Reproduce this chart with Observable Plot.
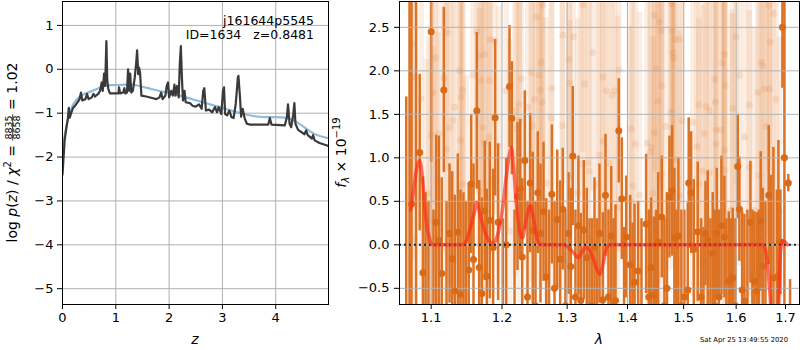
<!DOCTYPE html>
<html><head><meta charset="utf-8">
<script src="https://cdn.jsdelivr.net/npm/d3@7"></script>
<script src="https://cdn.jsdelivr.net/npm/@observablehq/plot@0.6"></script>
<style>
body{margin:0;background:#fff;}
#root{position:relative;width:800px;height:350px;font-family:"DejaVu Sans",sans-serif;background:#fff;}
#root svg{position:absolute;top:0;}
</style></head><body><div id="root"></div>
<script>
// ---------- left panel data ----------
const zTicks = [0, 1, 2, 3, 4];
const pTicks = [-5, -4, -3, -2, -1, 0, 1];
const zBlack = [0,0.04,0.074,0.10,0.118,0.136,0.167,0.198,0.235,0.285,0.32,0.347,0.37,0.43,0.46,0.49,0.55,0.58,0.61,0.67,0.705,0.736,0.755,0.78,0.80,0.823,0.84,0.86,0.89,1.05,1.06,1.08,1.14,1.16,1.18,1.21,1.23,1.25,1.27,1.29,1.32,1.355,1.38,1.40,1.42,1.435,1.455,1.48,1.57,1.70,1.76,1.82,1.85,1.88,1.93,1.955,1.98,2.00,2.04,2.07,2.10,2.12,2.15,2.18,2.20,2.22,2.24,2.26,2.29,2.31,2.39,2.44,2.50,2.56,2.61,2.64,2.66,2.69,2.75,2.81,2.86,2.90,2.93,2.98,3.01,3.03,3.05,3.09,3.13,3.17,3.21,3.25,3.29,3.30,3.33,3.35,3.38,3.42,3.46,3.52,3.86,3.89,3.92,4.17,4.21,4.23,4.26,4.29,4.33,4.35,4.37,4.42,4.54,4.57,4.60,4.68,4.70,4.73,4.82,4.95,4.99];
const pBlack = [-2.40,-1.62,-1.32,-1.13,-0.88,-1.10,-0.98,-0.88,-0.83,-0.75,-0.68,-0.53,-0.71,-0.68,-0.56,-0.68,-0.64,-0.56,-0.62,-0.56,-0.49,-0.30,-0.49,-0.10,-0.38,0.64,-0.26,-0.45,-0.55,-0.55,-0.41,-0.55,-0.53,-0.43,-0.55,-0.53,0.00,-0.49,-0.10,-0.53,-0.49,-0.19,0.11,0.43,-0.11,0.04,-0.08,-0.60,-0.62,-0.66,-0.68,-0.64,-0.53,-0.68,-0.60,-0.38,-0.30,-0.64,-0.49,-0.60,-0.35,-0.60,-0.38,-0.64,0.11,0.53,-0.19,-0.71,-0.49,-0.75,-0.77,-0.83,-0.85,-0.80,-0.90,-0.49,-0.43,-0.94,-0.92,-0.98,-0.86,-0.98,-0.86,-1.02,-0.49,-0.41,-1.02,-1.05,-0.94,-1.09,-1.11,-0.79,-0.19,-0.15,-0.64,-1.08,-0.90,-1.13,-1.24,-1.26,-1.26,-1.11,-1.26,-1.28,-1.09,-0.80,-1.24,-1.32,-1.02,-0.77,-1.24,-1.38,-1.48,-1.39,-1.50,-1.58,-1.50,-1.62,-1.68,-1.73,-1.75];
const zBlue = [0,0.05,0.10,0.15,0.20,0.30,0.40,0.50,0.60,0.70,0.80,0.90,1.00,1.20,1.30,1.40,1.60,1.80,2.00,2.20,2.40,2.60,2.80,3.00,3.20,3.40,3.60,3.80,4.00,4.20,4.35,4.50,4.65,4.80,4.99];
const pBlue = [-1.75,-1.45,-1.15,-0.95,-0.80,-0.65,-0.57,-0.52,-0.47,-0.42,-0.38,-0.36,-0.36,-0.35,-0.35,-0.37,-0.43,-0.49,-0.54,-0.60,-0.67,-0.74,-0.81,-0.88,-0.95,-1.02,-1.07,-1.09,-1.09,-1.11,-1.17,-1.29,-1.42,-1.51,-1.57];
const objName = "j161644p5545";
const objInfo = "ID=1634   z=0.8481";
const chiNum = "8835", chiDen = "8658", chiRatio = "1.02";
const stamp = "Sat Apr 25 13:49:55 2020";

// ---------- right panel data ----------
const lamTicks = [1.1, 1.2, 1.3, 1.4, 1.5, 1.6, 1.7];
const fTicks = [-0.5, 0, 0.5, 1.0, 1.5, 2.0, 2.5];
const darkLam = [1.0668,1.0711,1.0737,1.0798,1.0846,1.0889,1.0924,1.0963,1.1000,1.1031,1.1068,1.1105,1.1144,1.1172,1.1209,1.1251,1.1288,1.1324,1.1366,1.1403,1.1445,1.1481,1.1520,1.1554,1.1587,1.1634,1.1669,1.1706,1.1749,1.1778,1.1821,1.1870,1.1899,1.1943,
1.2014,1.2062,1.2111,1.2146,1.2186,1.2231,1.2272,1.2302,1.2341,1.2382,1.2423,1.2462,1.2504,1.2540,1.2581,1.2628,1.2670,1.2714,1.2758,1.2800,1.2843,1.2889,1.2930,1.2973,1.3021,1.3058,1.3090,1.3133,1.3181,1.3219,1.3268,1.3317,1.3362,1.3403,1.3444,1.3485,1.3527,
1.3582,1.3627,1.3677,1.3723,1.3762,1.3796,1.3852,1.3903,1.3941,1.3978,1.4047,1.4087,1.4122,1.4185,1.4243,1.4325,1.4371,1.4413,1.4460,1.4499,1.4538,1.4602,1.4650,1.4695,1.4741,1.4789,1.4831,1.4868,1.4904,1.4959,1.5014,1.5076,1.5094,1.5139,1.5188,1.5262,
1.5326,1.5370,1.5408,1.5451,1.5502,1.5546,1.5588,1.5623,1.5665,1.5713,1.5771,1.5810,1.5855,1.5894,1.5933,1.5986,1.6031,1.6064,1.6118,1.6163,1.6223,1.6283,1.6323,1.6363,1.6410,1.6454,1.6490,1.6531,1.6586,1.6653,1.6699,1.6750,1.6818,1.6853,1.6894,1.6936,1.6977,1.7059,1.7096];
const darkFlux = [-0.8,3.2,0.47,3.2,1.06,-0.32,-0.8,-1.0,2.45,-0.9,0.26,0.05,-0.33,1.78,-0.9,0.13,-0.16,-0.53,0.145,-0.57,-0.9,-0.8,-0.29,0.70,-0.17,1.54,-0.26,-0.56,0.39,-0.36,0.28,-0.03,1.46,0.26,
-0.9,0.0,1.82,1.455,-0.8,0.555,0.64,-0.14,0.97,-0.6,0.71,0.165,-0.7,0.6,0.13,0.38,-0.37,-0.8,0.58,-0.5,0.29,-0.165,0.41,-0.7,0.13,-0.25,1.02,-0.6,0.22,-0.64,0.17,-0.15,-0.8,-0.7,-0.03,-0.8,0.13,
-0.63,0.57,-0.6,0.10,-0.7,-0.64,1.31,0.53,-0.8,0.09,-0.23,-0.75,-0.43,-0.3,-0.8,0.24,-0.6,-0.26,-0.58,-0.8,0.03,0.32,-0.7,-0.5,0.55,0.62,0.08,-0.8,0.10,-0.7,-0.6,-0.52,0.71,0.60,-0.05,0.15,
-0.6,-0.8,0.13,0.05,-0.8,-0.10,-0.7,0.13,-0.6,0.22,0.09,-0.8,-0.42,-0.8,-0.38,-0.7,0.90,0.41,-0.52,-0.65,-0.8,0.26,-0.8,-0.42,-0.53,-0.8,0.27,-0.25,-0.8,0.57,-0.8,-0.38,-0.37,-0.8,0.03,2.5,1.0,0.71,-0.8];
const darkErr = [2.5,4.2,3.0,4.2,0.9,1.1,1.4,1.5,1.5,1.3,1.0,1.2,1.1,0.95,1.4,0.8,1.0,1.1,0.9,1.2,1.5,1.3,1.0,0.8,1.1,0.9,1.0,1.1,0.8,1.0,0.9,0.9,0.9,0.9,
1.2,1.0,0.7,0.65,1.2,0.85,0.8,0.9,0.8,1.1,0.8,0.9,1.2,0.7,0.8,0.8,0.9,1.2,0.8,1.0,0.8,0.9,0.7,1.1,0.7,0.9,0.8,1.0,0.8,1.0,0.8,0.8,1.1,1.0,0.8,1.1,0.8,
1.0,0.7,1.0,0.8,1.0,1.1,0.6,0.7,1.0,0.7,0.8,1.0,0.9,0.8,1.1,0.8,1.0,0.8,0.9,1.2,0.8,0.7,1.0,1.1,0.7,0.75,0.8,1.2,0.9,1.1,1.0,1.0,0.75,0.7,0.8,0.8,
0.9,1.0,0.6,0.8,1.1,0.7,1.1,0.75,1.0,0.8,0.7,1.1,0.8,1.1,0.8,1.0,0.6,0.6,0.9,1.0,1.2,0.7,1.2,0.8,0.9,1.2,0.8,0.9,1.3,0.8,1.6,1.5,1.0,2.0,0.6,0.7,3.0,0.1,0.4];
const lightLam = [1.0745,1.1058,1.0776,1.1022,1.0866,1.1219,1.1172,1.1389,1.1435,1.1412,1.1320,1.1296,1.1000,1.1103,1.1399,1.1634,1.1663,1.1744,1.1816,1.1720,1.1807,1.1749,1.1952,1.1889,1.1826,1.1577,1.1697,1.1435,1.1673,1.0968,1.1022,1.0933,1.0776,1.1484,1.1089,1.1205,1.1251,
1.2617,1.2515,1.2930,1.3101,1.3026,1.3416,1.2592,1.2438,1.2287,1.2555,1.3037,1.3279,1.2758,1.2576,1.2062,1.2489,1.2607,1.2251,1.2386,1.2211,1.2748,1.2261,1.2921,1.2193,1.2453,1.3333,1.3361,1.3214,1.3527,1.3048,1.3499,1.3170,1.2111,1.2670,1.3252,
1.4771,1.4472,1.4561,1.4591,1.4789,1.4831,1.4923,1.4804,1.4814,1.4502,1.3852,1.3582,1.4605,1.3779,1.3639,1.3740,1.5281,1.4531,1.4771,1.5169,1.4972,1.4681,1.4064,1.4472,1.3582,1.4138,1.4342,1.4413,1.4395,1.4862,1.3683,1.5245,1.4591,1.4092,1.4441,1.4207,1.4923,1.4035,1.3834,1.5281,
1.6653,1.6750,1.6688,1.6498,1.6531,1.5771,1.5727,1.6064,1.5580,1.5790,1.6429,1.6565,1.6667,1.6805,1.5599,1.6263,1.5933,1.5389,1.5609,1.5707,1.6600,1.6163,1.5612,1.5771,1.5357,1.5483,1.5771,1.6263,1.6464,1.5902,1.6363,1.6873,1.5933,1.5483,1.6000,1.5421];
const lightFlux = [2.31,2.15,1.93,1.75,1.68,2.44,1.92,2.00,1.78,1.70,1.58,1.43,1.26,1.28,1.20,2.45,2.17,2.19,1.89,1.35,1.24,1.17,1.14,2.35,2.36,1.95,1.89,0.70,0.62,0.59,0.28,-0.07,0.07,-0.16,0.74,1.10,1.35,
2.76,2.62,2.41,2.39,2.13,2.21,2.10,1.98,1.91,1.95,1.86,1.85,1.80,1.78,1.77,1.67,1.64,1.62,1.58,1.54,1.46,1.43,1.37,1.33,1.37,0.94,0.85,0.93,1.03,0.78,0.70,0.60,0.16,0.71,2.76,
2.77,2.64,2.56,2.46,2.46,2.36,2.36,2.21,2.15,2.02,2.01,1.93,1.83,1.77,1.77,1.72,1.61,1.65,1.52,1.41,1.43,1.36,1.33,1.29,1.19,1.16,1.17,1.12,1.06,0.98,0.94,1.13,0.81,0.68,0.59,0.57,0.56,0.51,0.43,0.70,
2.75,2.66,2.33,2.10,2.06,2.19,2.09,1.95,1.90,1.83,1.75,1.79,1.79,1.67,1.64,1.61,1.57,1.28,1.32,1.32,1.36,1.24,1.16,1.09,0.85,0.83,0.86,0.89,0.80,0.40,0.40,0.39,0.26,1.54,2.39,1.59];
const lightErr = [1.9,1.7,2.1,1.8,2.2,1.6,2.0,1.9,1.7,2.3,1.8,2.0,2.1,1.6,1.9,1.8,2.2,1.7,2.0,1.9,2.1,1.8,1.6,2.0,1.7,2.2,1.9,2.3,2.1,1.8,2.0,2.2,1.9,2.1,1.7,2.0,1.8,
1.8,2.0,1.7,1.9,2.1,1.6,2.2,1.8,2.0,1.7,1.9,2.1,1.8,2.3,1.6,2.0,1.9,1.7,2.2,1.8,2.0,2.1,1.9,1.7,1.8,2.2,2.0,1.9,2.1,1.8,2.3,2.0,2.2,1.9,1.7,
2.0,1.8,1.9,2.1,1.7,2.2,1.9,1.8,2.0,1.6,2.1,1.9,1.8,2.2,2.0,1.7,1.9,2.1,1.8,2.0,1.9,2.2,1.7,2.0,2.1,1.8,1.9,2.0,2.2,1.8,2.1,1.9,2.0,2.3,1.8,2.1,1.9,2.0,2.2,1.9,
1.9,2.0,1.8,2.1,1.7,2.0,1.9,2.2,1.8,2.0,1.9,2.1,1.7,2.0,1.8,2.2,1.9,2.1,2.0,1.8,1.9,2.1,2.0,2.2,1.9,2.1,2.0,1.8,2.2,2.3,2.1,2.0,2.4,1.9,1.7,2.0];
const modelLam = [1.0724,1.0760,1.0800,1.0846,1.0890,1.0928,1.0977,1.1018,1.1100,1.1200,1.1300,1.1428,1.1485,1.1544,1.1601,1.1633,1.1672,1.1729,1.1787,1.1845,1.1889,1.1947,1.2006,1.2066,1.2111,1.2137,1.2171,1.2216,1.2272,1.2307,1.2352,1.2423,1.2474,1.2520,1.2566,1.2700,1.2850,1.2945,1.3021,1.3101,1.3180,1.3246,1.3311,1.3378,1.3444,1.3494,1.3535,1.3576,1.3627,1.3677,1.4000,1.4500,1.5000,1.5500,1.6000,1.6300,1.6545,1.6606,1.6650,1.6699,1.6750,1.6800,1.6853,1.6873,1.6894,1.6936,1.6998,1.7040];
const modelFlux = [0.40,0.60,0.85,0.97,0.70,0.30,0.07,0.0,0.0,0.0,0.0,0.0,0.05,0.20,0.38,0.49,0.38,0.20,0.08,0.02,0.03,0.15,0.40,0.80,1.05,1.12,0.90,0.45,0.12,0.08,0.25,0.45,0.30,0.10,0.01,0.0,0.0,0.0,-0.03,-0.09,-0.15,-0.07,-0.03,-0.08,-0.20,-0.30,-0.34,-0.25,-0.08,0.0,0.0,0.0,0.0,0.0,0.0,0.0,0.0,-0.12,-0.35,-0.75,-1.2,-1.3,-0.8,-0.4,-0.1,0.05,0.03,0.0];

// ---------- styles ----------
const FONT = "DejaVu Sans";
const grid = "#b0b0b0";
const orange = "#dc7224";
const root = document.getElementById("root");
const baseStyle = {fontFamily: FONT, fontSize: "13px", color: "black", background: "transparent", overflow: "visible"};

const left = Plot.plot({
  width: 335, height: 350,
  marginLeft: 62, marginRight: 7, marginTop: 1, marginBottom: 46,
  style: baseStyle,
  x: {domain: [0, 4.99], ticks: zTicks, tickSize: 5, tickPadding: 3, label: null, tickFormat: d3.format("d")},
  y: {domain: [-5.36, 1.545], ticks: pTicks, tickSize: 5, tickPadding: 4, label: null, tickFormat: d3.format("d")},
  marks: [
    Plot.ruleX(zTicks, {stroke: grid, strokeWidth: 1}),
    Plot.ruleY(pTicks, {stroke: grid, strokeWidth: 1}),
    Plot.line(zBlue, {x: zBlue, y: pBlue, stroke: "#8fbcdb", strokeWidth: 2.2, curve: "catmull-rom", clip: true}),
    Plot.line(zBlack, {x: zBlack, y: pBlack, stroke: "#3a3a3a", strokeWidth: 2.2, clip: true}),
    Plot.frame({stroke: "black", strokeWidth: 1})
  ]
});
left.style.left = "0px";
root.appendChild(left);

const right = Plot.plot({
  width: 465, height: 350,
  marginLeft: 64, marginRight: 1, marginTop: 1, marginBottom: 46,
  style: baseStyle,
  x: {type: "log", domain: [1.058, 1.7295], ticks: lamTicks, tickSize: 5, tickPadding: 3, label: null, tickFormat: d3.format(".1f")},
  y: {domain: [-0.686, 2.797], ticks: fTicks, tickSize: 5, tickPadding: 5, label: null, tickFormat: d3.format(".1f")},
  marks: [
    Plot.ruleX(lightLam, {x: lightLam, y1: lightFlux.map((v, i) => v - lightErr[i]), y2: lightFlux.map((v, i) => v + lightErr[i]), stroke: orange, strokeOpacity: 0.12, strokeWidth: 5.5, clip: true}),
    Plot.dot(lightLam, {x: lightLam, y: lightFlux, r: 3.5, fill: orange, fillOpacity: 0.14, clip: true}),
    Plot.ruleX(darkLam, {x: darkLam, y1: darkFlux.map((v, i) => v - darkErr[i]), y2: darkFlux.map((v, i) => v + darkErr[i]), stroke: orange, strokeWidth: 2.5, clip: true}),
    Plot.ruleX(lamTicks, {stroke: grid, strokeWidth: 1}),
    Plot.ruleY(fTicks, {stroke: grid, strokeWidth: 1}),
    Plot.dot(darkLam, {x: darkLam, y: darkFlux, r: 3.5, fill: "#d96a18", clip: true}),
    Plot.ruleY([0], {stroke: "#222", strokeWidth: 2, strokeDasharray: "2,3"}),
    Plot.line(modelLam, {x: modelLam, y: modelFlux, stroke: "#ff2a18", strokeOpacity: 0.65, strokeWidth: 3.5, curve: "monotone-x", clip: true}),
    Plot.frame({stroke: "black", strokeWidth: 1})
  ]
});
right.style.left = "335px";
root.appendChild(right);

// ---------- text overlay ----------
const ov = d3.select(root).append("svg")
  .attr("width", 800).attr("height", 350)
  .style("left", "0px").style("pointer-events", "none")
  .attr("font-family", FONT).attr("fill", "black");

function pre(sel) { return sel.attr("xml:space", "preserve").style("white-space", "pre"); }

// left y label with fraction
const gL = ov.append("g").attr("font-size", 14);
const t1 = pre(gL.append("text").attr("x", 0).attr("y", 0));
t1.append("tspan").text("log ");
t1.append("tspan").attr("font-style", "italic").text("p");
t1.append("tspan").text("(");
t1.append("tspan").attr("font-style", "italic").text("z");
t1.append("tspan").text(") / ");
t1.append("tspan").attr("font-style", "italic").text("\u03c7");
t1.append("tspan").attr("font-size", 10).attr("dy", -6).text("2");
t1.append("tspan").attr("dy", 6).text(" = ");
const w1 = t1.node().getComputedTextLength();
const num = gL.append("text").attr("font-size", 9.5).attr("y", -5.2).attr("text-anchor", "middle").text(chiNum);
const den = gL.append("text").attr("font-size", 9.5).attr("y", 3.2).attr("text-anchor", "middle").text(chiDen);
const fw = Math.max(num.node().getComputedTextLength(), den.node().getComputedTextLength()) + 2;
num.attr("x", w1 + fw / 2); den.attr("x", w1 + fw / 2);
gL.append("line").attr("x1", w1).attr("x2", w1 + fw).attr("y1", -4.3).attr("y2", -4.3).attr("stroke", "black").attr("stroke-width", 0.8);
const t2 = pre(gL.append("text").attr("x", w1 + fw).attr("y", 0).text(" = " + chiRatio));
const total = w1 + fw + t2.node().getComputedTextLength();
gL.attr("transform", `translate(17,152.5) rotate(-90) translate(${-total / 2},0)`);

// right y label
const tR = pre(ov.append("text").attr("font-size", 14).attr("text-anchor", "middle")
  .attr("transform", "translate(346,152.5) rotate(-90)"));
tR.append("tspan").attr("font-style", "italic").text("f");
tR.append("tspan").attr("font-size", 10).attr("font-style", "italic").attr("dy", 3).text("\u03bb");
tR.append("tspan").attr("dy", -3).text(" \u00d7 10");
tR.append("tspan").attr("font-size", 10).attr("dy", -6).text("\u221219");

// x labels
ov.append("text").attr("x", 195).attr("y", 344).attr("font-size", 14).attr("font-style", "italic").attr("text-anchor", "middle").text("z");
ov.append("text").attr("x", 599).attr("y", 344).attr("font-size", 14).attr("font-style", "italic").attr("text-anchor", "middle").text("\u03bb");

// annotation
ov.append("text").attr("x", 314).attr("y", 24.5).attr("font-size", 12.5).attr("text-anchor", "end").text(objName);
pre(ov.append("text").attr("x", 314).attr("y", 39).attr("font-size", 12.5).attr("text-anchor", "end")).text(objInfo);

// timestamp
ov.append("text").attr("x", 788).attr("y", 342).attr("font-size", 6.8).attr("text-anchor", "end").text(stamp);
</script></body></html>
